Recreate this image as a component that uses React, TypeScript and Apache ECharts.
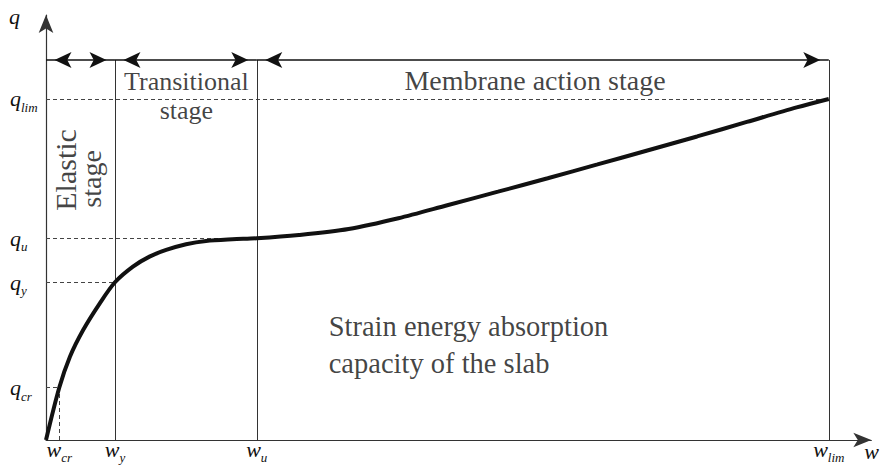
import React, { useEffect, useRef } from "react";
import * as echarts from "echarts";

// Tick positions (conceptual units) and their subscript names
const xTickSubs = ["cr", "y", "u", "lim"];
const xTickValues = [1.62, 8.45, 25.82, 95.89];
const yTickSubs = ["cr", "y", "u", "lim"];
const yTickValues = [12.54, 37.82, 48.37, 81.77];
const stageLevel = 91.1;
const xMax = 101.1;
const yMax = 101.9;

// Load–deflection curve
const curveW = [0, 1.62, 2.93, 4.55, 6.59, 8.45, 10.65, 12.68, 14.72, 17.16, 19.6, 22.84, 25.82, 30.98, 37.07, 43.17, 49.27, 55.37, 61.46, 67.56, 73.66, 79.76, 85.85, 91.95, 95.89];
const curveQ = [0, 12.54, 19.98, 26.38, 32.78, 37.82, 41.56, 43.96, 45.56, 46.93, 47.72, 48.13, 48.37, 49.16, 50.6, 53.17, 56.35, 59.54, 62.76, 66.07, 69.42, 72.78, 76.26, 79.74, 81.77];

const stageTexts = ["Elastic", "stage", "Transitional\nstage", "Membrane action stage"];
const noteText = "Strain energy absorption\ncapacity of the slab";

const SERIF = "Liberation Serif, serif";
const INK = "#111";

export default function App() {
  const ref = useRef<HTMLDivElement>(null);
  useEffect(() => {
    if (!ref.current) return;
    const chart = echarts.init(ref.current, null, { renderer: "svg" });
    const [wcr, wy, wu, wlim] = xTickValues;
    const [qcr, qy, qu, qlim] = yTickValues;

    const rich = {
      m: { fontFamily: SERIF, fontStyle: "italic", fontSize: 22, lineHeight: 22, verticalAlign: "top", color: INK },
      s: { fontFamily: SERIF, fontStyle: "italic", fontSize: 13, lineHeight: 13, padding: [13, 0, 0, 0], verticalAlign: "top", color: INK },
    };
    const nearest = (vals: number[], v: number) => {
      let bi = 0;
      vals.forEach((x, i) => { if (Math.abs(x - v) < Math.abs(vals[bi] - v)) bi = i; });
      return bi;
    };

    const dashStyle = { color: "#444", width: 1, type: [4, 3] as any };
    const solidStyle = { color: "#333", width: 1, type: "solid" as any };

    const arrowEnd = (x: number, y: number) => ({
      coord: [x, y],
      symbol: "arrow",
      symbolSize: [12, 17],
      symbolOffset: [0, 8.5],
    });

    const textLabel = (name: string, x: number, y: number, extra: any = {}) => ({
      value: [x, y],
      label: {
        show: true,
        position: "inside",
        formatter: name,
        fontFamily: SERIF,
        fontSize: 28,
        color: INK,
        align: "center",
        verticalAlign: "middle",
        ...extra,
      },
    });

    chart.setOption({
      animation: false,
      grid: { left: 46, right: 7, top: 15, bottom: 28, containLabel: false },
      xAxis: {
        type: "value",
        min: 0,
        max: xMax,
        name: "w",
        nameLocation: "end",
        nameGap: -7,
        nameTextStyle: { fontFamily: SERIF, fontStyle: "italic", fontSize: 22, lineHeight: 22, color: INK, align: "left", verticalAlign: "top" },
        axisLine: { show: true, symbol: ["none", "arrow"], symbolSize: [11, 18], lineStyle: { color: "#333", width: 1.2 } },
        axisTick: { show: false },
        splitLine: { show: false },
        axisLabel: {
          customValues: xTickValues,
          margin: -2,
          formatter: (v: number) => `{m|w}{s|${xTickSubs[nearest(xTickValues, v)]}}`,
          rich,
        },
      },
      yAxis: {
        type: "value",
        min: 0,
        max: yMax,
        name: "q",
        nameLocation: "end",
        nameGap: -1,
        nameTextStyle: { fontFamily: SERIF, fontStyle: "italic", fontSize: 22, lineHeight: 22, color: INK, align: "right", verticalAlign: "middle", padding: [0, 26, 0, 0] },
        axisLine: { show: true, symbol: ["none", "arrow"], symbolSize: [11, 18], lineStyle: { color: "#333", width: 1.2 } },
        axisTick: { show: false },
        splitLine: { show: false },
        axisLabel: {
          customValues: yTickValues,
          margin: 36,
          align: "left",
          formatter: (v: number) => `{m|q}{s|${yTickSubs[nearest(yTickValues, v)]}}`,
          rich,
        },
      },
      series: [
        {
          type: "line",
          data: [],
          silent: true,
          z: 1,
          markLine: {
            silent: true,
            symbol: "none",
            label: { show: false },
            lineStyle: dashStyle,
            data: [
              [{ coord: [0, qlim] }, { coord: [wlim, qlim] }],
              [{ coord: [0, qu] }, { coord: [wu, qu] }],
              [{ coord: [0, qy] }, { coord: [wy, qy] }],
              [{ coord: [0, qcr] }, { coord: [wcr, qcr] }],
              [{ coord: [wcr, 0] }, { coord: [wcr, qcr] }],
            ],
          },
        },
        {
          type: "line",
          data: [],
          silent: true,
          z: 2,
          markLine: {
            silent: true,
            symbol: "none",
            label: { show: false },
            lineStyle: solidStyle,
            data: [
              [{ coord: [wy, 0] }, { coord: [wy, stageLevel] }],
              [{ coord: [wu, 0] }, { coord: [wu, stageLevel] }],
              [{ coord: [wlim, 0] }, { coord: [wlim, stageLevel] }],
            ],
          },
        },
        {
          type: "line",
          data: [],
          silent: true,
          z: 3,
          markLine: {
            silent: true,
            symbol: ["arrow", "arrow"],
            label: { show: false },
            lineStyle: { color: INK, width: 1.5, type: "solid" },
            itemStyle: { color: INK },
            data: [
              [arrowEnd(0, stageLevel), arrowEnd(wy, stageLevel)],
              [arrowEnd(wy, stageLevel), arrowEnd(wu, stageLevel)],
              [arrowEnd(wu, stageLevel), arrowEnd(wlim, stageLevel)],
            ],
          },
        },
        {
          type: "line",
          data: curveW.map((w, i) => [w, curveQ[i]]),
          showSymbol: false,
          smooth: 0.3,
          silent: true,
          z: 5,
          lineStyle: { color: INK, width: 4 },
        },
        {
          type: "scatter",
          symbolSize: 0,
          silent: true,
          z: 6,
          data: [
            textLabel(stageTexts[0], 2.43, 64.75, { rotate: 90, fontSize: 30 }),
            textLabel(stageTexts[1], 5.55, 62.59, { rotate: 90 }),
            textLabel(stageTexts[2], 17.2, 82.5, { fontSize: 26, lineHeight: 29 }),
            textLabel(stageTexts[3], 59.9, 86.1),
            textLabel(noteText, 34.63, 22.83, { align: "left", lineHeight: 36.5, fontSize: 28.5 }),
          ],
        },
      ],
    } as any);
    return () => chart.dispose();
  }, []);
  return <div ref={ref} style={{ width: 882, height: 468, position: "absolute", left: 0, top: 0 }} />;
}
